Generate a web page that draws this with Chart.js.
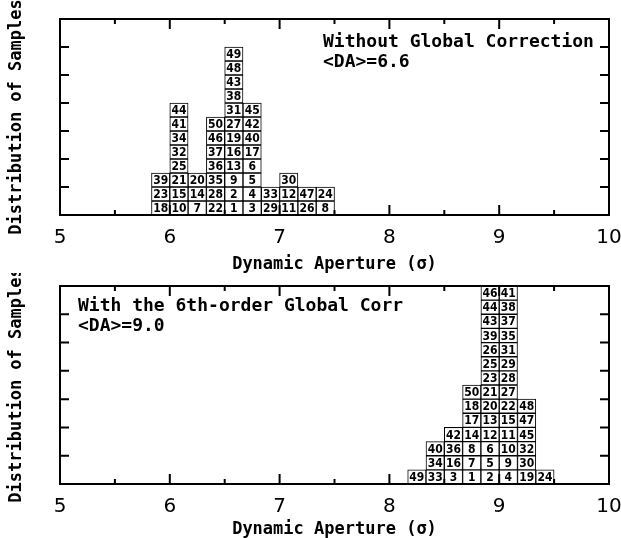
<!DOCTYPE html>
<html lang="en">
<head>
<meta charset="utf-8"/>
<title>Dynamic Aperture distribution</title>
<script src="https://cdn.jsdelivr.net/npm/chart.js"></script>
<style>
  body {
    margin: 0;
    background: #fff;
    width: 621px;
    height: 538px;
    overflow: hidden;
    position: relative;
  }
  .panel {
    position: absolute;
    left: 0;
    width: 621px;
  }
</style>
</head>
<body>
<div class="panel" style="top:0; height:273px;"><canvas id="topChart" width="621" height="273"></canvas></div>
<div class="panel" style="top:273px; height:265px;"><canvas id="bottomChart" width="621" height="265"></canvas></div>
<script>
// bin centres in sigma (bins are 1/6 sigma wide)
const topBins = [5.9167, 6.0833, 6.25, 6.4167, 6.5833, 6.75, 6.9167, 7.0833, 7.25, 7.4167];
// sample numbers stacked in each bin, bottom to top
const topSamples = [
  [18, 23, 39],
  [10, 15, 21, 25, 32, 34, 41, 44],
  [7, 14, 20],
  [22, 28, 35, 36, 37, 46, 50],
  [1, 2, 9, 13, 16, 19, 27, 31, 38, 43, 48, 49],
  [3, 4, 5, 6, 17, 40, 42, 45],
  [29, 33],
  [11, 12, 30],
  [26, 47],
  [8, 24]
];
const topNote = ['Without Global Correction', '<DA>=6.6'];

const bottomBins = [8.25, 8.4167, 8.5833, 8.75, 8.9167, 9.0833, 9.25, 9.4167];
const bottomSamples = [
  [49],
  [33, 34, 40],
  [3, 16, 36, 42],
  [1, 7, 8, 14, 17, 18, 50],
  [2, 5, 6, 12, 13, 20, 21, 23, 25, 26, 39, 43, 44, 46],
  [4, 9, 10, 11, 15, 22, 27, 28, 29, 31, 35, 37, 38, 41],
  [19, 30, 32, 45, 47, 48],
  [24]
];
const bottomNote = ['With the 6th-order Global Corr', '<DA>=9.0'];

const xTitle = 'Dynamic Aperture (\u03c3)';
const yTitle = 'Distribution of Samples';

const MONO = '"DejaVu Sans Mono", "Liberation Mono", monospace';

// one floating bar per sample: [row, row+1] in its bin
function boxes(bins, samples) {
  const pts = [];
  bins.forEach((x, i) => {
    samples[i].forEach((id, row) => {
      pts.push({x: x, y: [row, row + 1], id: id});
    });
  });
  return pts;
}

const boxLabels = {
  id: 'boxLabels',
  afterDatasetsDraw(chart) {
    const ctx = chart.ctx;
    const meta = chart.getDatasetMeta(0);
    const data = chart.data.datasets[0].data;
    ctx.save();
    ctx.font = 'bold 12px "DejaVu Sans Condensed", "DejaVu Sans", sans-serif';
    ctx.fillStyle = '#000';
    ctx.textAlign = 'center';
    ctx.textBaseline = 'middle';
    meta.data.forEach((bar, i) => {
      ctx.fillText(String(data[i].id), bar.x, (bar.y + bar.base) / 2 + 1);
    });
    ctx.restore();
  }
};

// box frame with inward ticks on all four sides, plus the note text
const frame = {
  id: 'frame',
  afterDraw(chart, args, opts) {
    const ctx = chart.ctx;
    const a = chart.chartArea;
    const x = chart.scales.x;
    const y = chart.scales.y;
    ctx.save();
    ctx.strokeStyle = '#000';
    ctx.lineWidth = 2;
    ctx.strokeRect(a.left, a.top, a.right - a.left, a.bottom - a.top);
    ctx.beginPath();
    x.ticks.forEach(t => {
      const px = x.getPixelForValue(t.value);
      const len = Number.isInteger(t.value) ? 10 : 5;
      ctx.moveTo(px, a.bottom); ctx.lineTo(px, a.bottom - len);
      ctx.moveTo(px, a.top); ctx.lineTo(px, a.top + len);
    });
    y.ticks.forEach(t => {
      const py = y.getPixelForValue(t.value);
      ctx.moveTo(a.left, py); ctx.lineTo(a.left + 9, py);
      ctx.moveTo(a.right, py); ctx.lineTo(a.right - 9, py);
    });
    ctx.stroke();

    ctx.fillStyle = '#000';
    ctx.font = 'bold 18px ' + MONO;
    ctx.textAlign = 'left';
    ctx.textBaseline = 'alphabetic';
    opts.lines.forEach((s, i) => {
      ctx.fillText(s, a.left + opts.dx, a.top + opts.dy + i * 20);
    });
    ctx.restore();
  }
};

function makeChart(id, bins, samples, note, padTop, axisHeight, noteDx, noteDy) {
  return new Chart(document.getElementById(id), {
    type: 'bar',
    data: {
      datasets: [{
        data: boxes(bins, samples),
        backgroundColor: '#fff',
        borderColor: '#000',
        borderWidth: 1,
        borderSkipped: false,
        barPercentage: 1,
        categoryPercentage: 1
      }]
    },
    options: {
      responsive: false,
      animation: false,
      layout: {padding: {top: padTop, right: 0, left: 0, bottom: 0}},
      plugins: {
        legend: {display: false},
        tooltip: {enabled: false},
        frame: {lines: note, dx: noteDx, dy: noteDy}
      },
      scales: {
        x: {
          type: 'linear',
          min: 5,
          max: 10,
          offset: false,
          grid: {display: false, drawTicks: false},
          border: {display: false},
          ticks: {
            stepSize: 0.5,
            autoSkip: false,
            maxRotation: 0,
            padding: 11,
            color: '#000',
            font: {family: '"DejaVu Sans", sans-serif', size: 20},
            callback: v => Number.isInteger(v) ? String(v) : ''
          },
          title: {
            display: true,
            text: xTitle,
            color: '#000',
            font: {family: MONO, size: 17, weight: 'bold', lineHeight: 1},
            padding: {top: 0, bottom: 0}
          },
          afterFit: s => {
            s.height = axisHeight;
            s.paddingLeft = 0;
            s.paddingRight = 12;
          }
        },
        y: {
          min: 0,
          max: 14,
          grid: {display: false, drawTicks: false},
          border: {display: false},
          ticks: {display: false, stepSize: 2},
          title: {
            display: true,
            text: yTitle,
            color: '#000',
            font: {family: MONO, size: 17, weight: 'bold', lineHeight: 1},
            padding: {top: 8.5, bottom: 0}
          },
          afterFit: s => { s.width = 60; }
        }
      }
    },
    plugins: [boxLabels, frame]
  });
}

makeChart('topChart', topBins, topSamples, topNote, 19, 58, 263, 28);
makeChart('bottomChart', bottomBins, bottomSamples, bottomNote, 13, 54, 18, 25);
</script>
</body>
</html>
